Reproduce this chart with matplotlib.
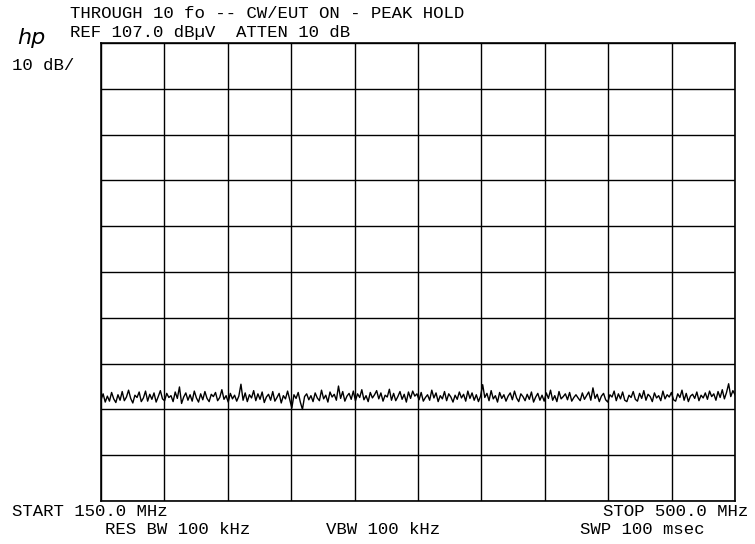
import numpy as np
import matplotlib
matplotlib.use("Agg")
import matplotlib.pyplot as plt

# sweep settings read from the annotation
start_mhz = 150.0
stop_mhz = 500.0
ref_level = 107.0
db_per_div = 10.0

# peak-hold trace, dBuV left to right
levels = [
    29.1, 30.4, 28.6, 29.9, 28.8, 30.7, 29.3, 28.5, 30.2, 29.0,
    30.9, 28.9, 29.7, 31.2, 29.4, 28.4, 30.1, 29.6, 30.8, 28.7,
    29.5, 31.0, 28.8, 30.3, 29.2, 30.6, 28.6, 29.8, 31.1, 29.3,
    28.9, 30.5, 29.6, 30.0, 28.7, 30.8, 29.4, 31.9, 28.3, 29.7,
    30.6, 29.0, 30.2, 28.8, 31.0, 29.5, 28.6, 30.4, 29.1, 30.9,
    29.4, 28.7, 30.3, 29.8, 30.7, 28.9, 29.6, 31.3, 29.2, 30.0,
    28.6, 30.5, 29.3, 30.1, 28.8, 29.9, 32.5, 29.0, 30.6, 28.7,
    30.2, 29.5, 31.1, 28.9, 30.4, 29.2, 30.8, 28.5, 29.7, 30.3,
    29.0, 30.9, 28.8, 29.6, 30.5, 28.4, 30.0, 29.3, 31.0, 29.1,
    27.3, 30.2, 29.4, 30.7, 28.6, 27.0, 29.8, 30.4, 29.1, 30.0,
    28.7, 30.6, 29.5, 28.9, 31.2, 29.3, 30.1, 28.6, 30.8, 29.7,
    30.3, 29.0, 32.1, 29.4, 30.9, 28.8, 29.9, 30.5, 29.2, 31.0,
    28.9, 30.4, 29.6, 31.3, 29.1, 30.0, 28.7, 30.7, 29.5, 30.2,
    31.1, 29.3, 30.6, 28.8, 30.1, 29.7, 31.4, 29.0, 30.5, 28.9,
    29.8, 30.9, 29.2, 30.3, 28.6, 30.8, 29.4, 31.0, 29.9, 30.4,
    29.1, 30.7, 28.8, 29.6, 30.2, 29.0, 31.2, 29.5, 30.6, 28.7,
    30.0, 29.3, 30.9, 28.9, 30.4, 29.7, 28.6, 30.1, 29.2, 30.8,
    29.5, 30.3, 28.8, 31.0, 29.4, 30.6, 29.0, 30.2, 28.7, 29.9,
    32.4, 29.6, 30.5, 28.9, 31.1, 29.3, 30.0, 28.6, 30.7, 29.4,
    30.2, 28.8, 29.9, 30.6, 29.1, 31.0, 29.5, 28.7, 30.4, 29.8,
    28.9, 30.3, 29.2, 30.8, 28.6, 29.7, 30.5, 29.0, 30.1, 28.8,
    30.6, 29.4, 31.2, 29.0, 30.0, 28.7, 30.9, 29.3, 29.8, 30.4,
    29.1, 30.7, 28.8, 29.6, 30.2, 29.5, 28.9, 30.6, 29.2, 30.0,
    30.8, 29.0, 31.7, 29.4, 30.3, 28.7, 29.9, 30.5, 29.1, 28.6,
    30.2, 29.7, 31.0, 28.9, 30.4, 29.3, 30.8, 29.0, 28.7, 30.1,
    29.6, 30.9, 29.2, 28.8, 30.5, 29.4, 31.1, 29.0, 30.3, 29.8,
    28.7, 30.6, 29.5, 30.0, 28.9, 31.0, 29.3, 30.2, 29.7, 30.7,
    29.1, 28.8, 30.4, 29.6, 31.2, 29.0, 30.5, 28.7, 29.9, 30.3,
    29.4, 30.8, 28.9, 30.1, 29.5, 30.6, 29.2, 31.0, 29.8, 30.4,
    29.0, 30.9, 29.6, 31.3, 29.3, 30.7, 32.6, 29.8, 31.1, 30.2,
]

freqs = np.linspace(start_mhz, stop_mhz, len(levels))

W, H = 755, 544
fig = plt.figure(figsize=(W / 100, H / 100), dpi=100)
fig.patch.set_facecolor("white")

ax = fig.add_axes([101 / W, 1 - 501 / H, 634 / W, 458 / H])
ax.plot(freqs, levels, color="black", lw=1.0)
ax.set_xlim(start_mhz, stop_mhz)
ax.set_ylim(ref_level - 10 * db_per_div, ref_level)
ax.set_xticks(np.linspace(start_mhz, stop_mhz, 11))
ax.set_yticks(np.linspace(ref_level - 10 * db_per_div, ref_level, 11))
ax.tick_params(length=0, labelbottom=False, labelleft=False)
ax.grid(True, color="black", lw=1.0)
for s in ax.spines.values():
    s.set_color("black")
    s.set_linewidth(1.2)

mono = dict(family="Liberation Mono", size=12.5, color="black")


def label(x, y, s, ha="left"):
    fig.text(x / W, 1 - y / H, s, ha=ha, va="center", **mono)


label(70, 14, "THROUGH 10 fo -- CW/EUT ON - PEAK HOLD")
label(70, 33, "REF 107.0 dB\u00b5V  ATTEN 10 dB")
label(12, 65, "10 dB/")
label(12, 511, "START 150.0 MHz")
label(748, 511, "STOP 500.0 MHz", ha="right")
label(105, 530, "RES BW 100 kHz")
label(326, 530, "VBW 100 kHz")
label(704, 530, "SWP 100 msec", ha="right")
fig.text(31 / W, 1 - 38 / H, "hp", ha="center", va="center",
         family="DejaVu Sans", style="italic", size=16, color="black")

fig.savefig("out.png", dpi=100, facecolor="white")
